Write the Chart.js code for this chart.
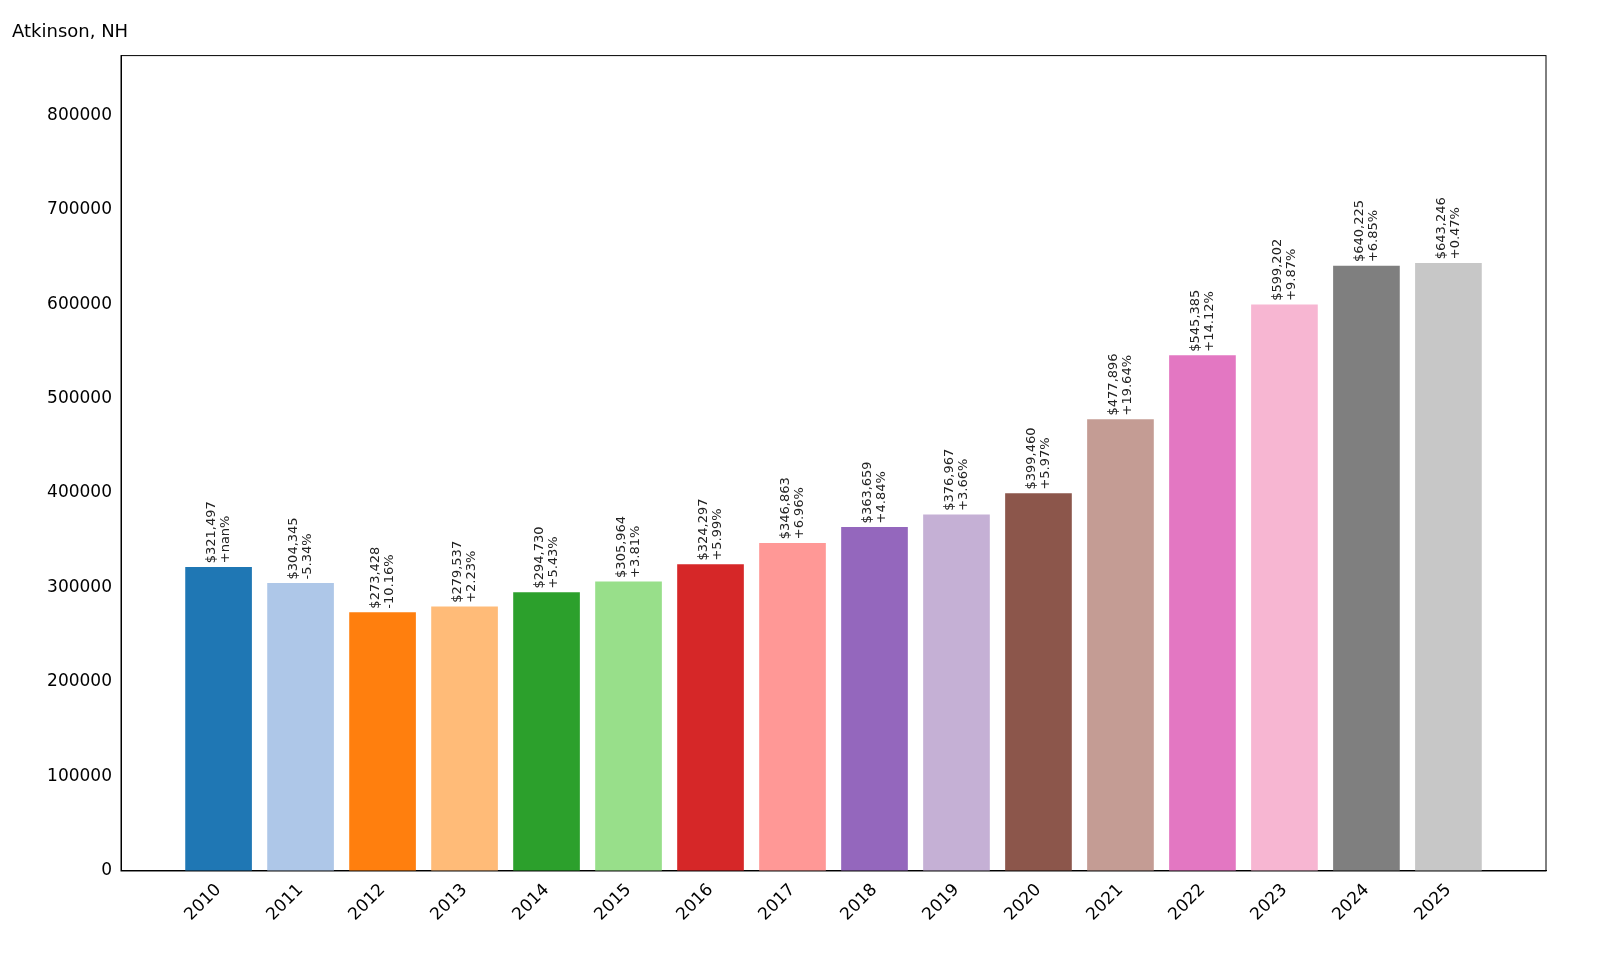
<!DOCTYPE html>
<html><head><meta charset="utf-8">
<script src="https://cdn.jsdelivr.net/npm/chart.js@4"></script>
<style>html,body{margin:0;background:#fff}#w{width:1600px;height:960px}</style>
</head><body><div id="w"><canvas id="c"></canvas></div>
<script>
const years=["2010","2011","2012","2013","2014","2015","2016","2017","2018","2019","2020","2021","2022","2023","2024","2025"];
const values=[321497,304345,273428,279537,294730,305964,324297,346863,363659,376967,399460,477896,545385,599202,640225,643246];
const changes=["+nan%","-5.34%","-10.16%","+2.23%","+5.43%","+3.81%","+5.99%","+6.96%","+4.84%","+3.66%","+5.97%","+19.64%","+14.12%","+9.87%","+6.85%","+0.47%"];
const yTicks=[0,100000,200000,300000,400000,500000,600000,700000,800000];
const colors=["#1f77b4","#aec7e8","#ff7f0e","#ffbb78","#2ca02c","#98df8a","#d62728","#ff9896","#9467bd","#c5b0d5","#8c564b","#c49c94","#e377c2","#f7b6d2","#7f7f7f","#c7c7c7"];
const F="'DejaVu Sans'";
const labelPlugin={id:'lbl',afterDatasetsDraw(ch){const ctx=ch.ctx;const meta=ch.getDatasetMeta(0);
ctx.save();ctx.fillStyle='#222';ctx.font="13px "+F;
meta.data.forEach((b,i)=>{ctx.save();ctx.translate(b.x,b.y-4);ctx.rotate(-Math.PI/2);ctx.textAlign='left';
ctx.textBaseline='middle';ctx.fillText('$'+values[i].toLocaleString('en-US'),0,-7);ctx.fillText(changes[i],0,7);ctx.restore();});
ctx.restore();}};
const frame={id:'frame',afterDraw(ch){const a=ch.chartArea,ctx=ch.ctx;ctx.save();ctx.strokeStyle='#000';ctx.lineWidth=1;ctx.strokeRect(a.left,a.top,a.right-a.left,a.bottom-a.top);ctx.restore();}};
new Chart(document.getElementById('c'),{type:'bar',
data:{datasets:[{data:values.map((v,i)=>({x:i,y:v})),backgroundColor:colors,barThickness:66}]},
options:{responsive:true,maintainAspectRatio:false,animation:false,
layout:{padding:{left:12,right:54,top:12,bottom:32}},
plugins:{legend:{display:false},tooltip:{enabled:false},
title:{display:true,text:'Atkinson, NH',align:'start',color:'#000',font:{family:F,size:18,weight:'normal'},padding:{top:10,bottom:12}}},
scales:{x:{type:'linear',offset:false,bounds:'data',min:-1.19,max:16.19,grid:{display:false,drawTicks:true,tickLength:6},border:{color:'#000'},
afterBuildTicks(s){s.ticks=years.map((y,i)=>({value:i}));},
ticks:{callback:(v)=>years[v],color:'#000',font:{family:F,size:17},maxRotation:45,minRotation:45,autoSkip:false}},
y:{min:0,max:863000,grid:{display:false,tickLength:6},border:{color:'#000'},afterFit(s){s.width=109;},
afterBuildTicks(s){s.ticks=yTicks.map(v=>({value:v}));},
ticks:{callback:(v)=>String(v),color:'#000',font:{family:F,size:17}}}}},
plugins:[labelPlugin,frame]});
</script></body></html>
